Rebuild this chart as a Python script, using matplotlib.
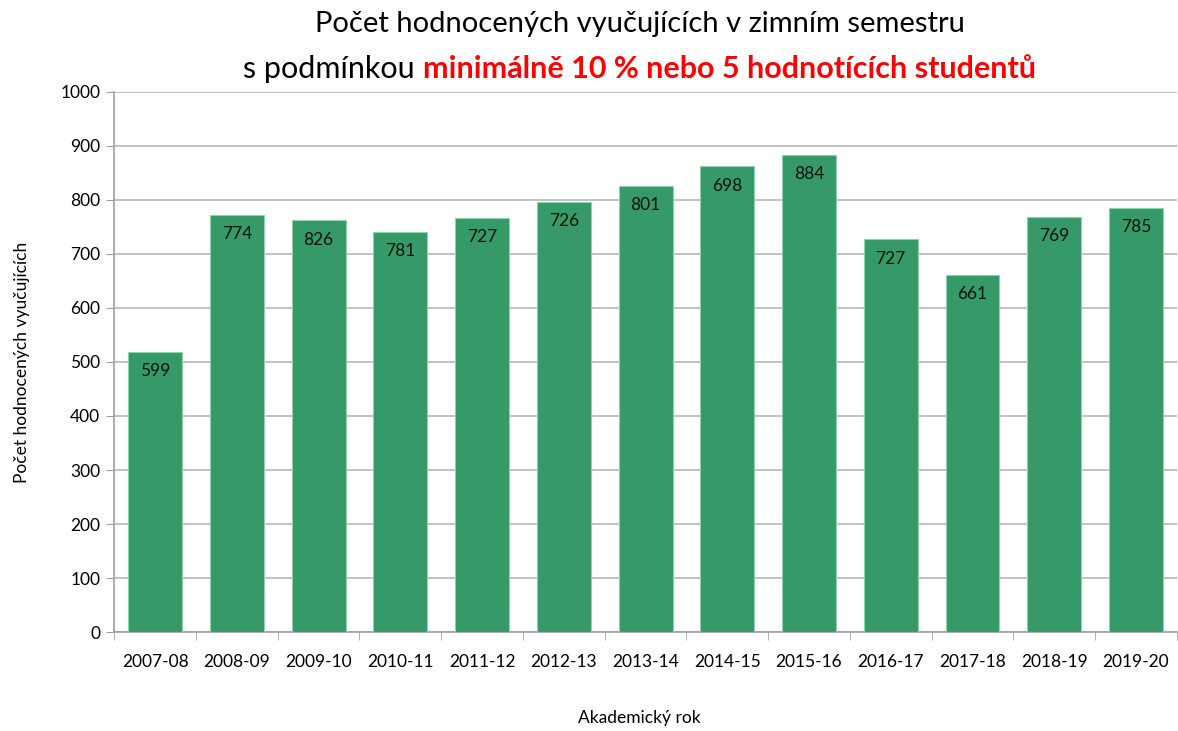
import matplotlib
matplotlib.use("Agg")
import matplotlib.pyplot as plt
import numpy as np

plt.rcParams['font.family'] = ['Lato', 'DejaVu Sans']

# data
years = ["2007-08", "2008-09", "2009-10", "2010-11", "2011-12", "2012-13", "2013-14",
         "2014-15", "2015-16", "2016-17", "2017-18", "2018-19", "2019-20"]
heights = [519, 773, 762, 741, 767, 796, 826, 862, 883, 727, 661, 769, 785]
# labels printed on the bars (they differ from the bar heights in the original)
labels = [599, 774, 826, 781, 727, 726, 801, 698, 884, 727, 661, 769, 785]

green = "#359a68"

fig = plt.figure(figsize=(11.78, 7.31), dpi=100)
ax = fig.add_axes([0.097, 0.1354, 0.902, 0.7388])

x = np.arange(len(years))
bars = ax.bar(x, heights, width=0.66, color=green, edgecolor="#8fd0ad", linewidth=0.8, zorder=3)

for b, lab in zip(bars, labels):
    ax.annotate(str(lab), (b.get_x() + b.get_width() / 2, b.get_height()),
                xytext=(0, -8), textcoords="offset points", ha="center", va="top",
                fontsize=12.5, color="#111111", zorder=4)

ax.set_xlim(-0.5, len(years) - 0.5)
ax.set_ylim(0, 1000)
ax.set_yticks(range(0, 1001, 100))
ax.set_xticks(x)
ax.set_xticklabels(years, fontsize=12.5)
ax.tick_params(axis="y", labelsize=12.5, length=6, color="#a0a0a0", pad=4)
ax.tick_params(axis="x", length=0, pad=16)
# minor ticks between categories on the x axis
ax.set_xticks(np.arange(-0.5, len(years), 1), minor=True)
ax.tick_params(axis="x", which="minor", length=6, color="#a0a0a0", direction="out")

ax.grid(axis="y", color="#b8b8b8", linewidth=1.2, zorder=0)
for s in ["top", "right"]:
    ax.spines[s].set_visible(False)
for s in ["left", "bottom"]:
    ax.spines[s].set_color("#a0a0a0")
    ax.spines[s].set_linewidth(1.2)

ax.set_ylabel("Počet hodnocených vyučujících", fontsize=12.5, labelpad=22)
fig.text(0.543, 1 - 718 / 731, "Akademický rok", fontsize=12.5, ha="center", va="center")

# two-line title, second line partly red and bold
fig.text(0.543, 1 - 24 / 731, "Počet hodnocených vyučujících v zimním semestru",
         fontsize=21, ha="center", va="center")
t1 = fig.text(0, 1 - 69 / 731, "s podmínkou ", fontsize=22, ha="left", va="center")
t2 = fig.text(0, 1 - 69 / 731, "minimálně 10 % nebo 5 hodnotících studentů", fontsize=22,
              ha="left", va="center", color="#ff0000", fontweight="bold")
fig.canvas.draw()
r = fig.canvas.get_renderer()
w1 = t1.get_window_extent(r).width
w2 = t2.get_window_extent(r).width
W = fig.bbox.width
start = 0.543 * W - (w1 + w2) / 2
t1.set_x(start / W)
t2.set_x((start + w1) / W)

fig.savefig("out.png", dpi=100)
